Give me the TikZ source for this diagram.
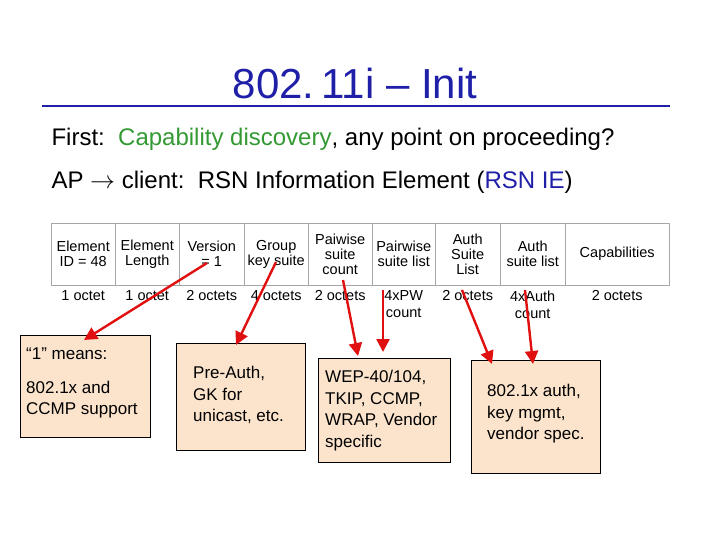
\documentclass[tikz,border=0pt]{standalone}
\usepackage{fontspec}
\setmainfont{Liberation Sans}
\usetikzlibrary{arrows.meta}
\definecolor{titleBlue}{HTML}{1F1FA8}
\definecolor{okGreen}{HTML}{339933}
\definecolor{boxFill}{HTML}{FCE4CC}
\definecolor{arrowRed}{HTML}{E01010}
\begin{document}
\begin{tikzpicture}[x=1pt,y=-1pt,
    cell/.style={draw=gray!70,thin,minimum height=62pt,inner sep=0pt,align=center,font=\fontsize{14.5}{15}\selectfont,anchor=north west},
    oct/.style={font=\fontsize{14.5}{17}\selectfont,align=center,anchor=north,inner sep=0pt},
    note/.style={draw=black,thick,fill=boxFill},
    ntext/.style={anchor=north west,align=left,inner sep=0pt,font=\fontsize{17}{21.5}\selectfont},
    ptr/.style={draw=arrowRed,line width=2.4pt,-{Triangle[length=13pt,width=13pt]}}
]
\useasboundingbox (0,0) rectangle (720,540);

\node[font=\fontsize{42}{46}\selectfont,text=titleBlue] (title) at (355,83) {802.\,11i -- Init};
\draw[titleBlue,line width=2.5pt] (42,106) -- (670,106);

\node[anchor=west,font=\fontsize{24}{28}\selectfont] (l1) at (48,139)
  {First:\ \ \textcolor{okGreen}{Capability discovery}, any point on proceeding?};
\node[anchor=west,font=\fontsize{24}{28}\selectfont] (l2) at (48,182)
  {AP $\rightarrow$ client:\ \ RSN Information Element (\textcolor{titleBlue}{RSN IE})};

% table cells
\node[cell,minimum width=64pt] (c1) at (51,223) {Element\\ID = 48};
\node[cell,minimum width=64pt] (c2) at (115,223) {Element\\Length};
\node[cell,minimum width=65pt] (c3) at (179,223) {Version\\= 1};
\node[cell,minimum width=64pt] (c4) at (244,223) {Group\\key suite};
\node[cell,minimum width=64pt] (c5) at (308,223) {Paiwise\\suite\\count};
\node[cell,minimum width=63pt] (c6) at (372,223) {Pairwise\\suite list};
\node[cell,minimum width=65pt] (c7) at (435,223) {Auth\\Suite\\List};
\node[cell,minimum width=65pt] (c8) at (500,223) {Auth\\suite list};
\node[cell,minimum width=104pt] (c9) at (565,223) {Capabilities};

\foreach \c/\t in {c1/1 octet,c2/1 octet,c3/2 octets,c4/4 octets,c5/2 octets,c6/4xPW\\count,c7/2 octets,c8/4xAuth\\count,c9/2 octets}
  \node[oct] (o\c) at ([yshift=-5pt]\c.south) {\t};

% notes
\draw[note] (20,335) rectangle (150,437);
\node[ntext] (n1) at (26,348) {\textquotedblleft1\textquotedblright\ means:\\[12pt]802.1x and\\CCMP support};
\draw[note] (176,343) rectangle (305,450);
\node[ntext] (n2) at (193,366) {Pre-Auth,\\GK for\\unicast, etc.};
\draw[note] (318,358) rectangle (450,462);
\node[ntext] (n3) at (325,370) {WEP-40/104,\\TKIP, CCMP,\\WRAP, Vendor\\specific};
\draw[note] (471,360) rectangle (600,473);
\node[ntext] (n4) at (487,384) {802.1x auth,\\key mgmt,\\vendor spec.};

% pointers
\coordinate (s1) at (207,263); \coordinate (e1) at (84,340);
\coordinate (s2) at (276,262); \coordinate (e2) at (236,345);
\coordinate (s3) at (343,280); \coordinate (e3) at (358,356);
\coordinate (s4) at (383,290); \coordinate (e4) at (383,352);
\coordinate (s5) at (462,290); \coordinate (e5) at (492,364);
\coordinate (s6) at (525,290); \coordinate (e6) at (533,364);
\foreach \i in {1,...,6} \draw[ptr] (s\i) -- (e\i);
\end{tikzpicture}
\end{document}
